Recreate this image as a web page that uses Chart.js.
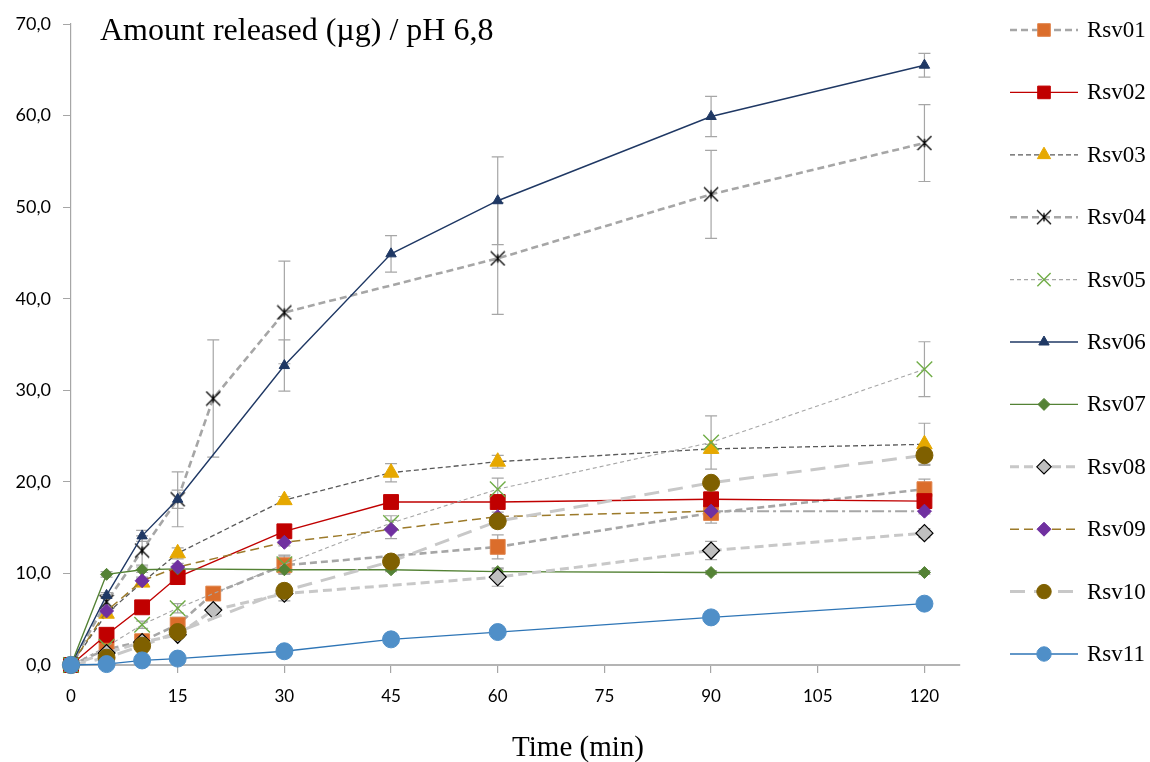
<!DOCTYPE html>
<html>
<head>
<meta charset="utf-8">
<script src="https://cdn.jsdelivr.net/npm/chart.js@4.4.1/dist/chart.umd.min.js"></script>
<style>
  html, body { margin: 0; padding: 0; background: #fff; }
</style>
</head>
<body>
<canvas id="c" width="1150" height="762"></canvas>
<script>
// time points (min)
const tStd = [0, 5, 10, 15, 30, 45, 60, 90, 120];
const tWith20 = [0, 5, 10, 15, 20, 30, 60, 90, 120];

// amount released (µg) and error bars
const rsv01 = [0, 1.7, 2.6, 4.4, 7.8, 10.9, 12.9, 16.6, 19.2];
const err01 = [0, 0.3, 0.4, 0.8, 0.6, 1.0, 1.3, 1.1, 1.1];
const rsv02 = [0, 3.3, 6.3, 9.6, 14.6, 17.8, 17.8, 18.1, 17.9];
const err02 = [0, 0.3, 0.3, 0.5, 0.5, 0.3, 0.3, 0.3, 0.3];
const rsv03 = [0, 5.6, 9.0, 12.2, 18.0, 21.0, 22.2, 23.6, 24.1];
const err03 = [0, 0.3, 0.4, 0.6, 0.4, 1.0, 0.7, 0.5, 2.3];
const rsv04 = [0, 6.9, 12.5, 18.1, 29.1, 38.5, 44.4, 51.4, 57.0];
const err04 = [0, 0.8, 1.6, 3.0, 6.4, 5.6, 6.1, 4.8, 4.2];
const rsv05 = [0, 2.0, 4.4, 6.2, 11.0, 15.5, 19.2, 24.3, 32.3];
const err05 = [0, 0.2, 0.4, 0.5, 1.0, 0.8, 1.2, 2.9, 3.0];
const rsv06 = [0, 7.6, 14.1, 18.1, 32.7, 44.9, 50.7, 59.9, 65.5];
const err06 = [0, 0.3, 0.6, 1.0, 2.8, 2.0, 4.8, 2.2, 1.3];
const rsv07 = [0, 9.9, 10.4, 10.5, 10.4, 10.4, 10.2, 10.1, 10.1];
const err07 = [0, 0.3, 0.3, 0.2, 0.4, 0.2, 0.3, 0.2, 0.2];
const rsv08 = [0, 1.3, 2.5, 3.3, 6.0, 7.8, 9.6, 12.5, 14.4];
const err08 = [0, 0.2, 0.3, 0.3, 0.4, 0.8, 1.0, 1.0, 0.5];
const rsv09 = [0, 5.9, 9.2, 10.7, 13.4, 14.8, 16.2, 16.8, 16.8];
const err09 = [0, 0.3, 0.4, 0.4, 0.4, 1.0, 0.5, 0.4, 0.3];
const rsv10 = [0, 0.8, 2.1, 3.6, 8.1, 11.3, 15.7, 19.9, 22.9];
const err10 = [0, 0.2, 0.3, 0.4, 0.7, 0.5, 0.7, 0.6, 1.0];
const rsv11 = [0, 0.1, 0.5, 0.7, 1.5, 2.8, 3.6, 5.2, 6.7];
const err11 = [0, 0.1, 0.1, 0.1, 0.2, 0.3, 0.3, 0.4, 0.6];

const xTicks = [0, 15, 30, 45, 60, 75, 90, 105, 120];

const toPoints = (t, v) => t.map((x, i) => ({ x: x, y: v[i] }));

// Excel style star marker: X with a vertical bar
function starMarker(size) {
    const c = document.createElement('canvas');
    c.width = size; c.height = size;
    const g = c.getContext('2d');
    const m = size / 2, r = size / 2 - 1;
    g.strokeStyle = '#000';
    g.lineWidth = 1.3;
    g.beginPath();
    g.moveTo(m - r, m - r); g.lineTo(m + r, m + r);
    g.moveTo(m + r, m - r); g.lineTo(m - r, m + r);
    g.moveTo(m, m - r * 0.6); g.lineTo(m, m + r * 0.6);
    g.stroke();
    return c;
}

const series = [
    { label: 'Rsv01', t: tWith20, v: rsv01, err: err01, line: '#a6a6a6', w: 2.6, dash: [7, 4],
      style: 'rect', r: 10.5, fill: '#db6d2b', stroke: '#e0834a', bw: 1 },
    { label: 'Rsv02', t: tStd, v: rsv02, err: err02, line: '#c00000', w: 1.4, dash: [],
      style: 'rect', r: 10.5, fill: '#c00000', stroke: '#c00000', bw: 1 },
    { label: 'Rsv03', t: tStd, v: rsv03, err: err03, line: '#595959', w: 1.3, dash: [5, 3],
      style: 'triangle', r: 9, fill: '#e6a800', stroke: '#e6a800', bw: 1 },
    { label: 'Rsv04', t: tWith20, v: rsv04, err: err04, line: '#a6a6a6', w: 2.6, dash: [7, 4],
      style: starMarker(16), r: 8, fill: '#000', stroke: '#000', bw: 0 },
    { label: 'Rsv05', t: tStd, v: rsv05, err: err05, line: '#a6a6a6', w: 1.1, dash: [4, 3],
      style: 'crossRot', r: 11, fill: '#70ad47', stroke: '#70ad47', bw: 1.4 },
    { label: 'Rsv06', t: tStd, v: rsv06, err: err06, line: '#1f3864', w: 1.4, dash: [],
      style: 'triangle', r: 6, fill: '#1f3864', stroke: '#1f3864', bw: 1 },
    { label: 'Rsv07', t: tStd, v: rsv07, err: err07, line: '#548235', w: 1.4, dash: [],
      style: 'rectRot', r: 6, fill: '#548235', stroke: '#548235', bw: 1 },
    { label: 'Rsv08', t: tWith20, v: rsv08, err: err08, line: '#c8c8c8', w: 3, dash: [9, 5],
      style: 'rectRot', r: 8.5, fill: '#bfbfbf', stroke: '#000', bw: 1.2 },
    { label: 'Rsv09', t: tStd, v: rsv09, err: err09, line: '#9c7a2a', w: 1.5, dash: [9, 5],
      style: 'rectRot', r: 7, fill: '#7030a0', stroke: '#7030a0', bw: 1 },
    { label: 'Rsv10', t: tStd, v: rsv10, err: err10, line: '#c8c8c8', w: 3, dash: [15, 9],
      style: 'circle', r: 8.5, fill: '#7f6000', stroke: '#7f6000', bw: 1 },
    { label: 'Rsv11', t: tStd, v: rsv11, err: err11, line: '#2e75b6', w: 1.3, dash: [],
      style: 'circle', r: 8.5, fill: '#4f8fc8', stroke: '#4f8fc8', bw: 1 }
];

const datasets = series.map((s, i) => {
    const ds = {
        label: s.label,
        data: toPoints(s.t, s.v),
        errors: s.err,
        borderColor: s.line,
        borderWidth: s.w,
        borderDash: s.dash,
        pointStyle: s.style,
        pointRadius: s.r,
        pointHoverRadius: s.r,
        pointBackgroundColor: s.fill,
        pointBorderColor: s.stroke,
        pointBorderWidth: s.bw,
        tension: 0,
        clip: false,
        order: -i
    };
    if (s.label === 'Rsv09') {
        // last segment is formatted as a grey dash-dot line
        const last = s.v.length - 1;
        ds.segment = {
            borderColor: ctx => ctx.p1DataIndex === last ? '#a6a6a6' : undefined,
            borderDash: ctx => ctx.p1DataIndex === last ? [12, 4, 3, 4] : undefined,
            borderWidth: ctx => ctx.p1DataIndex === last ? 2 : undefined
        };
    }
    return ds;
});

const errorBars = {
    id: 'errorBars',
    beforeDatasetsDraw(chart) {
        const ctx = chart.ctx;
        const xs = chart.scales.x, ys = chart.scales.y;
        ctx.save();
        ctx.strokeStyle = '#a6a6a6';
        ctx.lineWidth = 1.2;
        chart.data.datasets.forEach(ds => {
            ds.data.forEach((p, i) => {
                const e = ds.errors[i];
                if (!e) return;
                const x = xs.getPixelForValue(p.x);
                const y1 = ys.getPixelForValue(p.y + e);
                const y2 = ys.getPixelForValue(p.y - e);
                ctx.beginPath();
                ctx.moveTo(x, y1); ctx.lineTo(x, y2);
                ctx.moveTo(x - 6, y1); ctx.lineTo(x + 6, y1);
                ctx.moveTo(x - 6, y2); ctx.lineTo(x + 6, y2);
                ctx.stroke();
            });
        });
        ctx.restore();
    }
};

const texts = {
    id: 'texts',
    afterDraw(chart) {
        const ctx = chart.ctx;
        const area = chart.chartArea;
        ctx.save();
        ctx.fillStyle = '#000';
        ctx.textBaseline = 'middle';
        ctx.textAlign = 'left';
        ctx.font = '32px "Liberation Serif"';
        ctx.fillText('Amount released (µg) / pH 6,8', area.left + 29, area.top + 8);

        ctx.textAlign = 'center';
        ctx.font = '29px "Liberation Serif"';
        ctx.fillText('Time (min)', chart.width / 2 + 3, 748);

        // legend: line sample + marker + label
        const top = 30, step = 62.4;
        const x0 = 1010, x1 = 1078, xm = 1044;
        chart.data.datasets.forEach((ds, i) => {
            const y = top + i * step;
            ctx.save();
            ctx.strokeStyle = ds.borderColor;
            ctx.lineWidth = ds.borderWidth;
            ctx.setLineDash(ds.borderDash);
            ctx.beginPath();
            ctx.moveTo(x0, y); ctx.lineTo(x1, y);
            ctx.stroke();
            ctx.setLineDash([]);
            ctx.fillStyle = ds.pointBackgroundColor;
            ctx.strokeStyle = ds.pointBorderColor;
            ctx.lineWidth = ds.pointBorderWidth;
            const small = ds.pointRadius > 8 ? ds.pointRadius * 0.85 : ds.pointRadius;
            Chart.helpers.drawPoint(ctx, {
                pointStyle: ds.pointStyle, rotation: 0,
                radius: small, borderWidth: ds.pointBorderWidth
            }, xm, y);
            ctx.restore();
            ctx.textAlign = 'left';
            ctx.font = '23px "Liberation Serif"';
            ctx.fillStyle = '#000';
            ctx.fillText(ds.label, 1087, y + 1);
        });
        ctx.restore();
    }
};

new Chart(document.getElementById('c').getContext('2d'), {
    type: 'line',
    data: { datasets: datasets },
    options: {
        responsive: false,
        animation: false,
        devicePixelRatio: 1,
        layout: { padding: { left: 0, top: 24, right: 190, bottom: 0 } },
        plugins: {
            legend: { display: false },
            tooltip: { enabled: false }
        },
        scales: {
            x: {
                type: 'linear',
                min: 0,
                max: 125,
                afterFit: s => { s.height = 97; },
                afterBuildTicks: s => { s.ticks = xTicks.map(v => ({ value: v })); },
                ticks: {
                    font: { family: 'Lato', size: 17 },
                    color: '#000',
                    padding: 13
                },
                grid: { drawOnChartArea: false, drawTicks: true, tickLength: 8, color: '#a6a6a6', lineWidth: 1.2 },
                border: { color: '#b4b4b4', width: 2 }
            },
            y: {
                min: 0,
                max: 70,
                afterFit: s => { s.width = 71; },
                ticks: {
                    stepSize: 10,
                    font: { family: 'Lato', size: 18 },
                    color: '#000',
                    padding: 12,
                    callback: v => v.toFixed(1).replace('.', ',')
                },
                grid: { drawOnChartArea: false, drawTicks: true, tickLength: 8, color: '#a6a6a6', lineWidth: 1 },
                border: { color: '#a6a6a6', width: 1.2 }
            }
        }
    },
    plugins: [errorBars, texts]
});
</script>
</body>
</html>
